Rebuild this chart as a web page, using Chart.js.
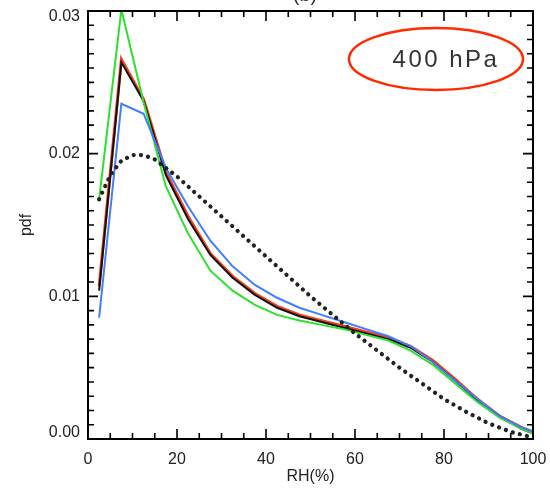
<!DOCTYPE html>
<html>
<head>
<meta charset="utf-8">
<script src="https://cdn.jsdelivr.net/npm/chart.js@4/dist/chart.umd.min.js"></script>
<style>
html,body{margin:0;padding:0;background:#fff;}
#wrap{width:550px;height:491px;position:relative;}
</style>
</head>
<body>
<div id="wrap"><canvas id="c" width="550" height="491"></canvas></div>
<script>
// RH bin centres (%)
const rh = [2.5,7.5,12.5,17.5,22.5,27.5,32.5,37.5,42.5,47.5,52.5,57.5,62.5,67.5,72.5,77.5,82.5,87.5,92.5,97.5,100];
const greenPdf = [0.0168,0.0301,0.0236,0.0177,0.0144,0.0118,0.0104,0.0094,0.0087,0.0083,0.0080,0.0077,0.0073,0.0069,0.0062,0.0052,0.0039,0.0026,0.0015,0.0007,0.0004];
const blackPdf = [0.0104,0.0264,0.0237,0.0185,0.0154,0.0129,0.0113,0.0101,0.0092,0.0086,0.0082,0.0078,0.0074,0.0070,0.0064,0.0054,0.0041,0.0027,0.0016,0.0007,0.0004];
const redPdf   = [0.0107,0.0266,0.0238,0.0187,0.0156,0.0130,0.0114,0.0102,0.0093,0.0087,0.0083,0.0079,0.0075,0.0071,0.0065,0.0055,0.0042,0.0028,0.0016,0.0008,0.0005];
const bluePdf  = [0.0085,0.0235,0.0228,0.0190,0.0163,0.0139,0.0121,0.0108,0.0099,0.0092,0.0087,0.0082,0.0077,0.0072,0.0065,0.0054,0.0041,0.0028,0.0016,0.0008,0.0005];
// dotted reference curve
const rhRef  = [2.5,5,7.5,10,12.5,15,17.5,20,25,30,35,40,45,50,55,60,65,70,75,80,85,90,95,100];
const refPdf = [0.0168,0.0185,0.0195,0.0199,0.0199,0.0196,0.0190,0.0184,0.0170,0.0156,0.0142,0.0128,0.0114,0.0100,0.0087,0.0074,0.0062,0.0050,0.0039,0.0028,0.0019,0.0011,0.0005,0.0001];
const xTicks = [0,20,40,60,80,100];
const yTicks = [0.00,0.01,0.02,0.03];
const panelLabel = "400 hPa";

const pts = (xs, ys) => xs.map((x,i)=>({x:x,y:ys[i]}));

// keep the end y-labels inside the frame (as in the original plot)
const labelNudge = {
  id:'labelNudge',
  beforeDraw(chart){
    const s = chart.scales.y;
    const items = s.getLabelItems();
    items.forEach((it,i)=>{
      const v = s.ticks[i].value;
      let py = s.getPixelForValue(v);
      if (v === s.min) py -= 6;
      if (v === s.max) py += 6;
      if (it.options && it.options.translation) it.options.translation[1] = py;
    });
  }
};

const framePlugin = {
  id:'frame',
  afterDatasetsDraw(chart){
    const {ctx, chartArea:a, scales:{x,y}} = chart;
    ctx.save();
    ctx.strokeStyle='#000';
    ctx.lineWidth=1.6;
    for(let v=0; v<=100.001; v+=5){
      const px = x.getPixelForValue(v);
      const len = (Math.abs(v%20)<1e-6)?10:6;
      ctx.beginPath();
      ctx.moveTo(px,a.bottom); ctx.lineTo(px,a.bottom-len);
      ctx.moveTo(px,a.top); ctx.lineTo(px,a.top+len);
      ctx.stroke();
    }
    for(let k=0; k<=30; k++){
      const py = y.getPixelForValue(k*0.001);
      const len = (k%10===0)?10:6;
      ctx.beginPath();
      ctx.moveTo(a.left,py); ctx.lineTo(a.left+len,py);
      ctx.moveTo(a.right,py); ctx.lineTo(a.right-len,py);
      ctx.stroke();
    }
    ctx.lineWidth=2;
    ctx.strokeRect(a.left,a.top,a.right-a.left,a.bottom-a.top);
    ctx.strokeStyle='#ff2a00';
    ctx.lineWidth=2.5;
    ctx.beginPath();
    ctx.ellipse(436,59,87,31,0,0,Math.PI*2);
    ctx.stroke();
    ctx.fillStyle='#333';
    ctx.font='24px "Liberation Sans", Arial, sans-serif';
    ctx.textAlign='center';
    ctx.textBaseline='middle';
    try{ ctx.letterSpacing='2.5px'; }catch(e){}
    ctx.fillText(panelLabel,446,60);
    try{ ctx.letterSpacing='0px'; }catch(e){}
    ctx.font='20px "Liberation Sans", Arial, sans-serif';
    ctx.textBaseline='alphabetic';
    ctx.fillStyle='#333';
    ctx.fillText('(b)',305,1);
    ctx.restore();
  }
};

const solid = (data,color,w)=>({data, borderColor:color, borderWidth:w, pointRadius:0, tension:0, fill:false});

new Chart(document.getElementById('c'),{
  type:'line',
  data:{datasets:[
    Object.assign(solid(pts(rhRef,refPdf),'#222',4.2),{borderDash:[0.1,7.2],borderCapStyle:'round'}),
    solid(pts(rh,bluePdf),'#3f7fff',2),
    solid(pts(rh,greenPdf),'#2ee02e',2),
    solid(pts(rh,blackPdf),'#111',2),
    solid(pts(rh,redPdf),'#f5401c',3)
  ]},
  options:{
    responsive:false,
    animation:false,
    events:[],
    layout:{padding:{top:11,right:17,left:0,bottom:0}},
    plugins:{legend:{display:false},tooltip:{enabled:false}},
    scales:{
      x:{type:'linear',min:0,max:100,
        afterFit(s){s.height=52;s.paddingLeft=0;s.paddingRight=0;},
        afterBuildTicks(s){s.ticks=xTicks.map(v=>({value:v}));},
        grid:{display:false,drawTicks:false},
        border:{display:false},
        ticks:{color:'#222',font:{size:16,family:'"Liberation Sans", Arial, sans-serif'},padding:11,maxRotation:0},
        title:{display:true,text:'RH(%)',color:'#222',font:{size:16,family:'"Liberation Sans", Arial, sans-serif'},padding:{top:0,bottom:5}}
      },
      y:{type:'linear',min:0,max:0.03,
        afterFit(s){s.width=88;s.paddingTop=0;s.paddingBottom=0;},
        afterBuildTicks(s){s.ticks=yTicks.map(v=>({value:v}));},
        grid:{display:false,drawTicks:false},
        border:{display:false},
        ticks:{color:'#222',font:{size:16,family:'"Liberation Sans", Arial, sans-serif'},padding:8,
          callback:(v)=>v.toFixed(2)},
        title:{display:true,text:'pdf',color:'#222',font:{size:16,family:'"Liberation Sans", Arial, sans-serif'},padding:{top:17,bottom:0}}
      }
    }
  },
  plugins:[labelNudge, framePlugin]
});
</script>
</body>
</html>
